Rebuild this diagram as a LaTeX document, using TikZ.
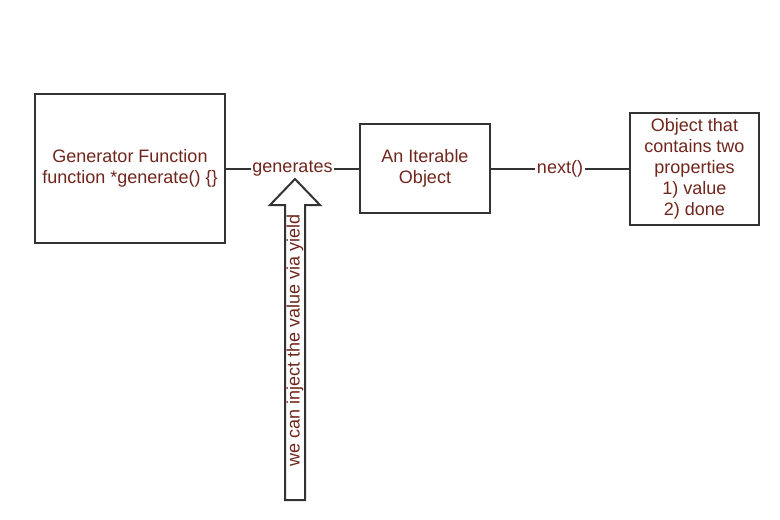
\documentclass[tikz,border=0pt]{standalone}
\usepackage{fontspec}
\setmainfont{Liberation Sans}
\usepackage{tikz}
\usetikzlibrary{positioning}
\definecolor{lineColor}{RGB}{51, 51, 51}
\definecolor{labelColor}{RGB}{112, 38, 28}
\tikzset{
    flow_box/.style={
        draw=lineColor,
        line width=2pt,
        fill=white,
        text=labelColor,
        align=center,
        font=\fontsize{18}{21}\selectfont
    },
    flow_edge/.style={
        draw=lineColor,
        line width=2pt
    },
    edge_label/.style={
        fill=white,
        text=labelColor,
        inner sep=1.5pt,
        font=\fontsize{18}{21}\selectfont
    }
}
\begin{document}
\begin{tikzpicture}[x=1pt, y=-1pt]
        \useasboundingbox (0,0) rectangle (780,520);

        \node[flow_box, minimum width=190pt, minimum height=149pt] (genfn) at (130,168.5)
            {Generator Function\\function *generate() \{\}};
        \node[flow_box, minimum width=130pt, minimum height=89pt] (iterobj) at (425,168.5)
            {An Iterable\\Object};
        \node[flow_box, minimum width=129pt, minimum height=112pt] (result) at (694.5,168.5)
            {Object that\\contains two\\properties\\1) value\\2) done};

        \draw[flow_edge] (genfn) -- node[edge_label] (gentxt) {generates} (iterobj);
        \draw[flow_edge] (iterobj) -- node[edge_label] (nexttxt) {next()} (result);

        % hollow arrow pointing up at the label
        \coordinate (tip) at (295,179);
        \draw[flow_edge, fill=white] (tip) -- (320,205) -- (305,205) -- (305,500)
            -- (285,500) -- (285,205) -- (270,205) -- cycle;
        \node[edge_label, fill=none, rotate=90] (yieldtxt) at (295,340)
            {we can inject the value via yield};
    \end{tikzpicture}
\end{document}
